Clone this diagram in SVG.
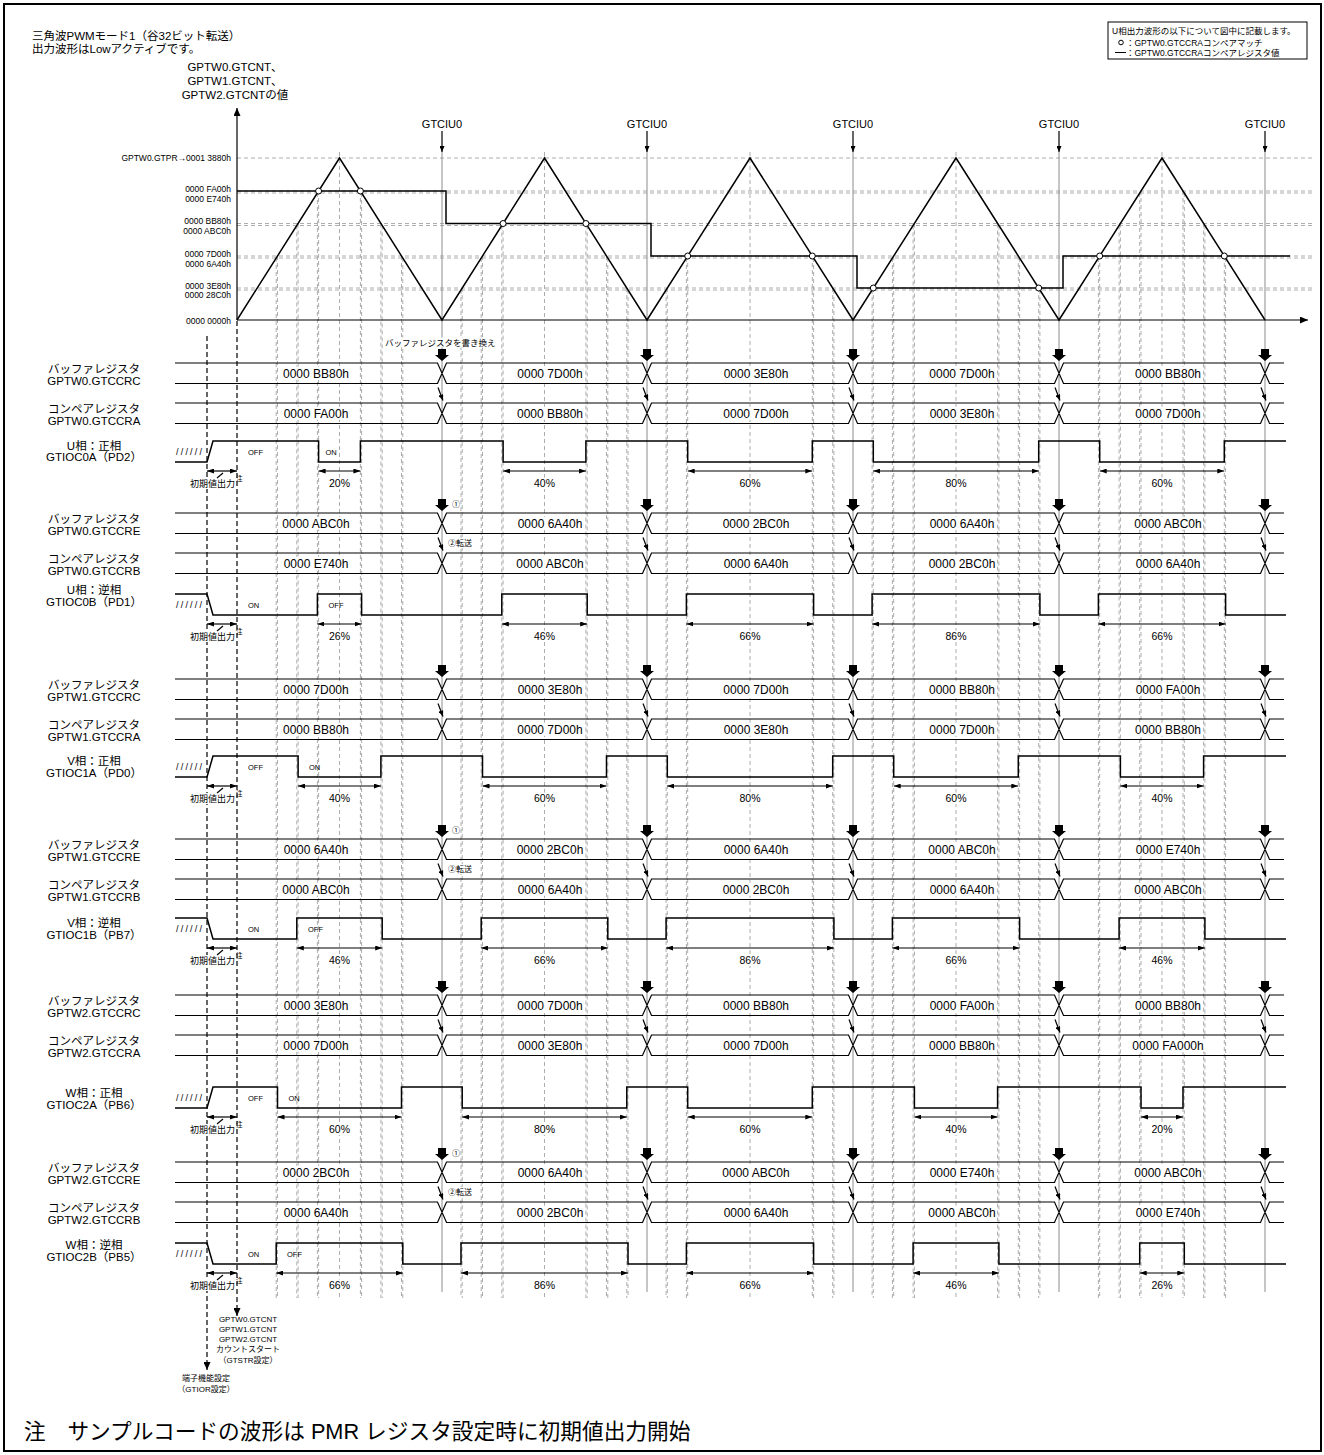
<svg xmlns="http://www.w3.org/2000/svg" width="1324" height="1455" viewBox="0 0 1324 1455">
<defs>
<style>
text{font-family:"Liberation Sans","Noto Sans CJK JP",sans-serif;fill:#000}
.lb{font-size:11.5px;text-anchor:middle}
.bv{font-size:12px;text-anchor:middle}
.pc{font-size:10.5px;text-anchor:middle}
.oo{font-size:7.5px}
.yl{font-size:8.5px;text-anchor:end}
.sm{font-size:8px;text-anchor:middle}
.ini{font-size:9px;text-anchor:end}
.sup{font-size:6.5px}
.hat{font-size:9px}
.gt{font-size:11px;text-anchor:middle}
.grid{stroke:#adadad;stroke-width:1;stroke-dasharray:4 3;fill:none}
.cu{stroke:#8c8c8c;stroke-width:1;fill:none}
.bus{stroke:#000;stroke-width:1.2;fill:none}
.wv{stroke:#000;stroke-width:1.5;fill:none}
.ar{stroke:#000;stroke-width:1.2;fill:none}
.pa{stroke:#000;stroke-width:1.2;fill:none;marker-start:url(#ah);marker-end:url(#ah)}
.bg{fill:#fff}
.dk{stroke:#000;stroke-width:1.2;stroke-dasharray:5 3;fill:none}
</style>
<marker id="ah" viewBox="0 0 7 5" refX="7" refY="2.5" markerWidth="7" markerHeight="5" markerUnits="userSpaceOnUse" orient="auto-start-reverse"><path d="M0,0L7,2.5L0,5z"/></marker>
<marker id="ahs" viewBox="0 0 6 5" refX="6" refY="2.5" markerWidth="6" markerHeight="5" markerUnits="userSpaceOnUse" orient="auto"><path d="M0,0L6,2.5L0,5z"/></marker>
<marker id="ahb" viewBox="0 0 8 7" refX="8" refY="3.5" markerWidth="8" markerHeight="7" markerUnits="userSpaceOnUse" orient="auto"><path d="M0,0L8,3.5L0,7z"/></marker>
<path id="bus" class="bus" d="M175,0H437.5L446.5,20.5H642.5L651.5,0H848.5L857.5,20.5H1054.5L1063.5,0H1260.5L1269.5,20.5H1284M175,20.5H437.5L446.5,0H642.5L651.5,20.5H848.5L857.5,0H1054.5L1063.5,20.5H1260.5L1269.5,0H1284"/>
<g id="blk5">
<path transform="translate(442,0)" d="M-4,-12H4V-6H7L0,0L-7,-6H-4Z"/>
<path transform="translate(647,0)" d="M-4,-12H4V-6H7L0,0L-7,-6H-4Z"/>
<path transform="translate(853,0)" d="M-4,-12H4V-6H7L0,0L-7,-6H-4Z"/>
<path transform="translate(1059,0)" d="M-4,-12H4V-6H7L0,0L-7,-6H-4Z"/>
<path transform="translate(1265,0)" d="M-4,-12H4V-6H7L0,0L-7,-6H-4Z"/>
</g>
<g id="dia5" class="ar">
<line x1="438" y1="0" x2="443" y2="13" marker-end="url(#ahs)"/>
<line x1="643" y1="0" x2="648" y2="13" marker-end="url(#ahs)"/>
<line x1="849" y1="0" x2="854" y2="13" marker-end="url(#ahs)"/>
<line x1="1055" y1="0" x2="1060" y2="13" marker-end="url(#ahs)"/>
<line x1="1261" y1="0" x2="1266" y2="13" marker-end="url(#ahs)"/>
</g>
<g id="bbg" class="bg">
<rect x="282" y="3.75" width="68" height="13"/><rect x="516" y="3.75" width="68" height="13"/><rect x="722" y="3.75" width="68" height="13"/><rect x="928" y="3.75" width="68" height="13"/><rect x="1134" y="3.75" width="68" height="13"/>
</g>
<g id="pbg" class="bg">
<rect x="326.5" y="15.5" width="26" height="11.5"/><rect x="531.5" y="15.5" width="26" height="11.5"/><rect x="737" y="15.5" width="26" height="11.5"/><rect x="943" y="15.5" width="26" height="11.5"/><rect x="1149" y="15.5" width="26" height="11.5"/>
</g>
<g id="init">
<rect class="bg" x="189" y="16" width="47" height="11"/>
<line class="pa" x1="207" y1="9" x2="237" y2="9"/>
<line class="ar" x1="217" y1="16" x2="223" y2="11"/>
<text class="ini" x="235" y="25">初期値出力</text>
<text class="sup" x="236" y="19">注</text>
</g>
</defs>
<rect x="0" y="0" width="1324" height="1455" fill="#fff"/>
<rect x="4" y="4" width="1317" height="1447" fill="none" stroke="#000" stroke-width="2"/>

<g id="title">
<text x="32" y="40" style="font-size:11.5px">三角波PWMモード1（谷32ビット転送）</text>
<text x="32" y="53" style="font-size:11.5px">出力波形はLowアクティブです。</text>
</g>

<g id="legend">
<rect x="1108" y="22" width="199" height="37" fill="#fff" stroke="#000" stroke-width="1"/>
<text x="1112" y="34" style="font-size:8.5px">U相出力波形の以下について図中に記載します。</text>
<circle cx="1121" cy="42.5" r="2.3" fill="#fff" stroke="#000" stroke-width="1"/>
<text x="1126" y="45.5" style="font-size:8.5px">：GPTW0.GTCCRAコンペアマッチ</text>
<line x1="1115" y1="52.5" x2="1126" y2="52.5" stroke="#000" stroke-width="1"/>
<text x="1126" y="55.5" style="font-size:8.5px">：GPTW0.GTCCRAコンペアレジスタ値</text>
</g>

<g id="grid">
<path class="grid" d="M237,158H1313M237,191H1313M237,193H1313M237,223.5H1313M237,225.5H1313M237,256H1313M237,258H1313M237,288H1313M237,290H1313"/>
<path class="grid" d="M318.6,191V1298M317.4,193V1298M298.1,223.5V1298M296.8,225.5V1298M277.5,256V1298M276.2,258V1298M360.4,191V1298M361.6,193V1298M380.9,223.5V1298M382.2,225.5V1298M401.5,256V1298M402.8,258V1298M339.5,152V1298M503.1,223.5V1298M501.8,225.5V1298M482.5,256V1298M481.2,258V1298M462.2,288V1298M461,290V1298M585.9,223.5V1298M587.2,225.5V1298M606.5,256V1298M607.8,258V1298M626.8,288V1298M628,290V1298M544.5,152V1298M687.7,256V1298M686.4,258V1298M667.3,288V1298M666.1,290V1298M812.3,256V1298M813.6,258V1298M832.7,288V1298M833.9,290V1298M750,152V1298M873.3,288V1298M872.1,290V1298M893.7,256V1298M892.4,258V1298M914.4,223.5V1298M913.1,225.5V1298M1038.7,288V1298M1039.9,290V1298M1018.3,256V1298M1019.6,258V1298M997.6,223.5V1298M998.9,225.5V1298M956,152V1298M1099.7,256V1298M1098.4,258V1298M1120.4,223.5V1298M1119.1,225.5V1298M1141,191V1298M1139.7,193V1298M1224.3,256V1298M1225.6,258V1298M1203.6,223.5V1298M1204.9,225.5V1298M1183,191V1298M1184.3,193V1298M1162,152V1298"/>
</g>

<g id="gtciu0">
<path class="cu" d="M442,152V1292M647,152V1292M853,152V1292M1059,152V1292M1265,152V1292"/>
<g class="ar">
<line x1="442" y1="131" x2="442" y2="152" marker-end="url(#ahs)"/>
<line x1="647" y1="131" x2="647" y2="152" marker-end="url(#ahs)"/>
<line x1="853" y1="131" x2="853" y2="152" marker-end="url(#ahs)"/>
<line x1="1059" y1="131" x2="1059" y2="152" marker-end="url(#ahs)"/>
<line x1="1265" y1="131" x2="1265" y2="152" marker-end="url(#ahs)"/>
</g>
<text class="gt" x="442" y="128">GTCIU0</text>
<text class="gt" x="647" y="128">GTCIU0</text>
<text class="gt" x="853" y="128">GTCIU0</text>
<text class="gt" x="1059" y="128">GTCIU0</text>
<text class="gt" x="1265" y="128">GTCIU0</text>
</g>

<g id="counter-graph">
<path class="ar" d="M237,320V108" marker-end="url(#ahb)"/>
<path class="ar" d="M237,320H1308" marker-end="url(#ahb)"/>
<text class="lb" x="235" y="71">GPTW0.GTCNT、</text>
<text class="lb" x="235" y="85">GPTW1.GTCNT、</text>
<text class="lb" x="235" y="99">GPTW2.GTCNTの値</text>
<text class="yl" x="231" y="161">GPTW0.GTPR→0001 3880h</text>
<text class="yl" x="231" y="192">0000 FA00h</text>
<text class="yl" x="231" y="202">0000 E740h</text>
<text class="yl" x="231" y="224">0000 BB80h</text>
<text class="yl" x="231" y="233.5">0000 ABC0h</text>
<text class="yl" x="231" y="257">0000 7D00h</text>
<text class="yl" x="231" y="267">0000 6A40h</text>
<text class="yl" x="231" y="289">0000 3E80h</text>
<text class="yl" x="231" y="298">0000 28C0h</text>
<text class="yl" x="231" y="324">0000 0000h</text>
<polyline class="wv" points="237,320 339.5,158 442,320 544.5,158 647,320 750,158 853,320 956,158 1059,320 1162,158 1265,320"/>
<path class="wv" d="M237,191H446V223.5H651V256H857V288H1063V256H1290"/>
<g fill="#fff" stroke="#000" stroke-width="1">
<circle cx="318.6" cy="191" r="3"/><circle cx="360.4" cy="191" r="3"/>
<circle cx="503.1" cy="223.5" r="3"/><circle cx="585.9" cy="223.5" r="3"/>
<circle cx="687.7" cy="256" r="3"/><circle cx="812.3" cy="256" r="3"/>
<circle cx="873.3" cy="288" r="3"/><circle cx="1038.7" cy="288" r="3"/>
<circle cx="1099.7" cy="256" r="3"/><circle cx="1224.3" cy="256" r="3"/>
</g>
</g>

<g id="start-markers">
<path class="dk" d="M237,321V1308"/>
<path class="ar" d="M237,1308V1316" marker-end="url(#ahb)"/>
<path class="dk" d="M207,336V1362"/>
<path class="ar" d="M207,1362V1370" marker-end="url(#ahb)"/>
<g class="sm">
<text x="248" y="1322">GPTW0.GTCNT</text>
<text x="248" y="1332">GPTW1.GTCNT</text>
<text x="248" y="1342">GPTW2.GTCNT</text>
<text x="248" y="1352">カウントスタート</text>
<text x="248" y="1363">（GTSTR設定）</text>
<text x="206" y="1381">端子機能設定</text>
<text x="206" y="1392">（GTIOR設定）</text>
</g>
</g>

<g id="connectors">
<use href="#dia5" y="387.5"/>
<use href="#dia5" y="537.5"/>
<use href="#dia5" y="703.5"/>
<use href="#dia5" y="863.5"/>
<use href="#dia5" y="1019.5"/>
<use href="#dia5" y="1186.5"/>
</g>

<!-- U phase -->
<g id="u-buf-c">
<use href="#bus" y="363"/><use href="#blk5" y="361"/><use href="#bbg" y="363"/>
<rect class="bg" x="384" y="337.5" width="114" height="10"/>
<text x="385" y="345.5" style="font-size:8.5px">バッファレジスタを書き換え</text>
<text class="lb" x="94" y="373">バッファレジスタ</text><text class="lb" x="94" y="385">GPTW0.GTCCRC</text>
<text class="bv" y="377.5"><tspan x="316">0000 BB80h</tspan><tspan x="550">0000 7D00h</tspan><tspan x="756">0000 3E80h</tspan><tspan x="962">0000 7D00h</tspan><tspan x="1168">0000 BB80h</tspan></text>
</g>
<g id="u-cmp-a">
<use href="#bus" y="403"/><use href="#bbg" y="403"/>
<text class="lb" x="94" y="413">コンペアレジスタ</text><text class="lb" x="94" y="425">GPTW0.GTCCRA</text>
<text class="bv" y="417.5"><tspan x="316">0000 FA00h</tspan><tspan x="550">0000 BB80h</tspan><tspan x="756">0000 7D00h</tspan><tspan x="962">0000 3E80h</tspan><tspan x="1168">0000 7D00h</tspan></text>
</g>
<g id="u-out-a">
<text class="lb" x="94" y="450">U相：正相</text><text class="lb" x="94" y="461">GTIOC0A（PD2）</text>
<text class="hat" x="176" y="455" textLength="26" lengthAdjust="spacing">//////</text>
<path class="wv" d="M175,462H207L213,441H318.6V462H360.4V441H503.1V462H585.9V441H687.7V462H812.3V441H873.3V462H1038.7V441H1099.7V462H1224.3V441H1286"/>
<text class="oo" x="248" y="454.5">OFF</text><text class="oo" x="325.5" y="454.5">ON</text>
<use href="#init" y="462"/>
<line class="pa" x1="318.6" y1="471" x2="360.4" y2="471"/><line class="pa" x1="503.1" y1="471" x2="585.9" y2="471"/><line class="pa" x1="687.7" y1="471" x2="812.3" y2="471"/><line class="pa" x1="873.3" y1="471" x2="1038.7" y2="471"/><line class="pa" x1="1099.7" y1="471" x2="1224.3" y2="471"/>
<use href="#pbg" y="462"/>
<text class="pc" y="487"><tspan x="339.5">20%</tspan><tspan x="544.5">40%</tspan><tspan x="750">60%</tspan><tspan x="956">80%</tspan><tspan x="1162">60%</tspan></text>
</g>
<g id="u-buf-e">
<use href="#bus" y="513"/><use href="#blk5" y="511"/><use href="#bbg" y="513"/>
<text class="lb" x="94" y="523">バッファレジスタ</text><text class="lb" x="94" y="535">GPTW0.GTCCRE</text>
<text class="bv" y="527.5"><tspan x="316">0000 ABC0h</tspan><tspan x="550">0000 6A40h</tspan><tspan x="756">0000 2BC0h</tspan><tspan x="962">0000 6A40h</tspan><tspan x="1168">0000 ABC0h</tspan></text>
<text x="452" y="507" style="font-size:8px">①</text>
<rect class="bg" x="447" y="538" width="30" height="10"/>
<text x="448" y="546" style="font-size:8px">②転送</text>
</g>
<g id="u-cmp-b">
<use href="#bus" y="553"/><use href="#bbg" y="553"/>
<text class="lb" x="94" y="563">コンペアレジスタ</text><text class="lb" x="94" y="575">GPTW0.GTCCRB</text>
<text class="bv" y="567.5"><tspan x="316">0000 E740h</tspan><tspan x="550">0000 ABC0h</tspan><tspan x="756">0000 6A40h</tspan><tspan x="962">0000 2BC0h</tspan><tspan x="1168">0000 6A40h</tspan></text>
</g>
<g id="u-out-b">
<text class="lb" x="94" y="594">U相：逆相</text><text class="lb" x="94" y="606">GTIOC0B（PD1）</text>
<text class="hat" x="176" y="608" textLength="26" lengthAdjust="spacing">//////</text>
<path class="wv" d="M175,594H207L213,615H317.4V594H361.6V615H501.8V594H587.2V615H686.4V594H813.6V615H872.1V594H1039.9V615H1098.4V594H1225.6V615H1286"/>
<text class="oo" x="248" y="607.5">ON</text><text class="oo" x="328.5" y="607.5">OFF</text>
<use href="#init" y="615"/>
<line class="pa" x1="317.4" y1="624" x2="361.6" y2="624"/><line class="pa" x1="501.8" y1="624" x2="587.2" y2="624"/><line class="pa" x1="686.4" y1="624" x2="813.6" y2="624"/><line class="pa" x1="872.1" y1="624" x2="1039.9" y2="624"/><line class="pa" x1="1098.4" y1="624" x2="1225.6" y2="624"/>
<use href="#pbg" y="615"/>
<text class="pc" y="640"><tspan x="339.5">26%</tspan><tspan x="544.5">46%</tspan><tspan x="750">66%</tspan><tspan x="956">86%</tspan><tspan x="1162">66%</tspan></text>
</g>

<!-- V phase -->
<g id="v-buf-c">
<use href="#bus" y="679"/><use href="#blk5" y="677"/><use href="#bbg" y="679"/>
<text class="lb" x="94" y="689">バッファレジスタ</text><text class="lb" x="94" y="701">GPTW1.GTCCRC</text>
<text class="bv" y="693.5"><tspan x="316">0000 7D00h</tspan><tspan x="550">0000 3E80h</tspan><tspan x="756">0000 7D00h</tspan><tspan x="962">0000 BB80h</tspan><tspan x="1168">0000 FA00h</tspan></text>
</g>
<g id="v-cmp-a">
<use href="#bus" y="719"/><use href="#bbg" y="719"/>
<text class="lb" x="94" y="729">コンペアレジスタ</text><text class="lb" x="94" y="741">GPTW1.GTCCRA</text>
<text class="bv" y="733.5"><tspan x="316">0000 BB80h</tspan><tspan x="550">0000 7D00h</tspan><tspan x="756">0000 3E80h</tspan><tspan x="962">0000 7D00h</tspan><tspan x="1168">0000 BB80h</tspan></text>
</g>
<g id="v-out-a">
<text class="lb" x="94" y="764.5">V相：正相</text><text class="lb" x="94" y="776.5">GTIOC1A（PD0）</text>
<text class="hat" x="176" y="770" textLength="26" lengthAdjust="spacing">//////</text>
<path class="wv" d="M175,777H207L213,756H298.1V777H380.9V756H482.5V777H606.5V756H667.3V777H832.7V756H893.7V777H1018.3V756H1120.4V777H1203.6V756H1286"/>
<text class="oo" x="248" y="769.5">OFF</text><text class="oo" x="309" y="769.5">ON</text>
<use href="#init" y="777"/>
<line class="pa" x1="298.1" y1="786" x2="380.9" y2="786"/><line class="pa" x1="482.5" y1="786" x2="606.5" y2="786"/><line class="pa" x1="667.3" y1="786" x2="832.7" y2="786"/><line class="pa" x1="893.7" y1="786" x2="1018.3" y2="786"/><line class="pa" x1="1120.4" y1="786" x2="1203.6" y2="786"/>
<use href="#pbg" y="777"/>
<text class="pc" y="802"><tspan x="339.5">40%</tspan><tspan x="544.5">60%</tspan><tspan x="750">80%</tspan><tspan x="956">60%</tspan><tspan x="1162">40%</tspan></text>
</g>
<g id="v-buf-e">
<use href="#bus" y="839"/><use href="#blk5" y="837"/><use href="#bbg" y="839"/>
<text class="lb" x="94" y="849">バッファレジスタ</text><text class="lb" x="94" y="861">GPTW1.GTCCRE</text>
<text class="bv" y="853.5"><tspan x="316">0000 6A40h</tspan><tspan x="550">0000 2BC0h</tspan><tspan x="756">0000 6A40h</tspan><tspan x="962">0000 ABC0h</tspan><tspan x="1168">0000 E740h</tspan></text>
<text x="452" y="833" style="font-size:8px">①</text>
<rect class="bg" x="447" y="864" width="30" height="10"/>
<text x="448" y="872" style="font-size:8px">②転送</text>
</g>
<g id="v-cmp-b">
<use href="#bus" y="879"/><use href="#bbg" y="879"/>
<text class="lb" x="94" y="889">コンペアレジスタ</text><text class="lb" x="94" y="901">GPTW1.GTCCRB</text>
<text class="bv" y="893.5"><tspan x="316">0000 ABC0h</tspan><tspan x="550">0000 6A40h</tspan><tspan x="756">0000 2BC0h</tspan><tspan x="962">0000 6A40h</tspan><tspan x="1168">0000 ABC0h</tspan></text>
</g>
<g id="v-out-b">
<text class="lb" x="94" y="926.5">V相：逆相</text><text class="lb" x="94" y="938.5">GTIOC1B（PB7）</text>
<text class="hat" x="176" y="932" textLength="26" lengthAdjust="spacing">//////</text>
<path class="wv" d="M175,918H207L213,939H296.8V918H382.2V939H481.2V918H607.8V939H666.1V918H833.9V939H892.4V918H1019.6V939H1119.1V918H1204.9V939H1286"/>
<text class="oo" x="248" y="931.5">ON</text><text class="oo" x="308" y="931.5">OFF</text>
<use href="#init" y="939"/>
<line class="pa" x1="296.8" y1="948" x2="382.2" y2="948"/><line class="pa" x1="481.2" y1="948" x2="607.8" y2="948"/><line class="pa" x1="666.1" y1="948" x2="833.9" y2="948"/><line class="pa" x1="892.4" y1="948" x2="1019.6" y2="948"/><line class="pa" x1="1119.1" y1="948" x2="1204.9" y2="948"/>
<use href="#pbg" y="939"/>
<text class="pc" y="964"><tspan x="339.5">46%</tspan><tspan x="544.5">66%</tspan><tspan x="750">86%</tspan><tspan x="956">66%</tspan><tspan x="1162">46%</tspan></text>
</g>

<!-- W phase -->
<g id="w-buf-c">
<use href="#bus" y="995"/><use href="#blk5" y="993"/><use href="#bbg" y="995"/>
<text class="lb" x="94" y="1005">バッファレジスタ</text><text class="lb" x="94" y="1017">GPTW2.GTCCRC</text>
<text class="bv" y="1009.5"><tspan x="316">0000 3E80h</tspan><tspan x="550">0000 7D00h</tspan><tspan x="756">0000 BB80h</tspan><tspan x="962">0000 FA00h</tspan><tspan x="1168">0000 BB80h</tspan></text>
</g>
<g id="w-cmp-a">
<use href="#bus" y="1035"/><use href="#bbg" y="1035"/>
<rect class="bg" x="1130" y="1038.75" width="76" height="13"/>
<text class="lb" x="94" y="1045">コンペアレジスタ</text><text class="lb" x="94" y="1057">GPTW2.GTCCRA</text>
<text class="bv" y="1049.5"><tspan x="316">0000 7D00h</tspan><tspan x="550">0000 3E80h</tspan><tspan x="756">0000 7D00h</tspan><tspan x="962">0000 BB80h</tspan><tspan x="1168">0000 FA000h</tspan></text>
</g>
<g id="w-out-a">
<text class="lb" x="94" y="1097">W相：正相</text><text class="lb" x="94" y="1109">GTIOC2A（PB6）</text>
<text class="hat" x="176" y="1101" textLength="26" lengthAdjust="spacing">//////</text>
<path class="wv" d="M175,1108H207L213,1087H277.5V1108H401.5V1087H462.2V1108H626.8V1087H687.7V1108H812.3V1087H914.4V1108H997.6V1087H1141V1108H1183V1087H1286"/>
<text class="oo" x="248" y="1100.5">OFF</text><text class="oo" x="288.5" y="1100.5">ON</text>
<use href="#init" y="1108"/>
<line class="pa" x1="277.5" y1="1117" x2="401.5" y2="1117"/><line class="pa" x1="462.2" y1="1117" x2="626.8" y2="1117"/><line class="pa" x1="687.7" y1="1117" x2="812.3" y2="1117"/><line class="pa" x1="914.4" y1="1117" x2="997.6" y2="1117"/><line class="pa" x1="1141" y1="1117" x2="1183" y2="1117"/>
<use href="#pbg" y="1108"/>
<text class="pc" y="1133"><tspan x="339.5">60%</tspan><tspan x="544.5">80%</tspan><tspan x="750">60%</tspan><tspan x="956">40%</tspan><tspan x="1162">20%</tspan></text>
</g>
<g id="w-buf-e">
<use href="#bus" y="1162"/><use href="#blk5" y="1160"/><use href="#bbg" y="1162"/>
<text class="lb" x="94" y="1172">バッファレジスタ</text><text class="lb" x="94" y="1184">GPTW2.GTCCRE</text>
<text class="bv" y="1176.5"><tspan x="316">0000 2BC0h</tspan><tspan x="550">0000 6A40h</tspan><tspan x="756">0000 ABC0h</tspan><tspan x="962">0000 E740h</tspan><tspan x="1168">0000 ABC0h</tspan></text>
<text x="452" y="1156" style="font-size:8px">①</text>
<rect class="bg" x="447" y="1187" width="30" height="10"/>
<text x="448" y="1195" style="font-size:8px">②転送</text>
</g>
<g id="w-cmp-b">
<use href="#bus" y="1202"/><use href="#bbg" y="1202"/>
<text class="lb" x="94" y="1212">コンペアレジスタ</text><text class="lb" x="94" y="1224">GPTW2.GTCCRB</text>
<text class="bv" y="1216.5"><tspan x="316">0000 6A40h</tspan><tspan x="550">0000 2BC0h</tspan><tspan x="756">0000 6A40h</tspan><tspan x="962">0000 ABC0h</tspan><tspan x="1168">0000 E740h</tspan></text>
</g>
<g id="w-out-b">
<text class="lb" x="94" y="1249">W相：逆相</text><text class="lb" x="94" y="1261">GTIOC2B（PB5）</text>
<text class="hat" x="176" y="1257" textLength="26" lengthAdjust="spacing">//////</text>
<path class="wv" d="M175,1243H207L213,1264H276.2V1243H402.8V1264H461V1243H628V1264H686.4V1243H813.6V1264H913.1V1243H998.9V1264H1139.7V1243H1184.3V1264H1286"/>
<text class="oo" x="248" y="1256.5">ON</text><text class="oo" x="287" y="1256.5">OFF</text>
<use href="#init" y="1264"/>
<line class="pa" x1="276.2" y1="1273" x2="402.8" y2="1273"/><line class="pa" x1="461" y1="1273" x2="628" y2="1273"/><line class="pa" x1="686.4" y1="1273" x2="813.6" y2="1273"/><line class="pa" x1="913.1" y1="1273" x2="998.9" y2="1273"/><line class="pa" x1="1139.7" y1="1273" x2="1184.3" y2="1273"/>
<use href="#pbg" y="1264"/>
<text class="pc" y="1289"><tspan x="339.5">66%</tspan><tspan x="544.5">86%</tspan><tspan x="750">66%</tspan><tspan x="956">46%</tspan><tspan x="1162">26%</tspan></text>
</g>

<g id="note">
<text x="24" y="1439" style="font-size:21.7px">注　サンプルコードの波形は PMR レジスタ設定時に初期値出力開始</text>
</g>
</svg>
